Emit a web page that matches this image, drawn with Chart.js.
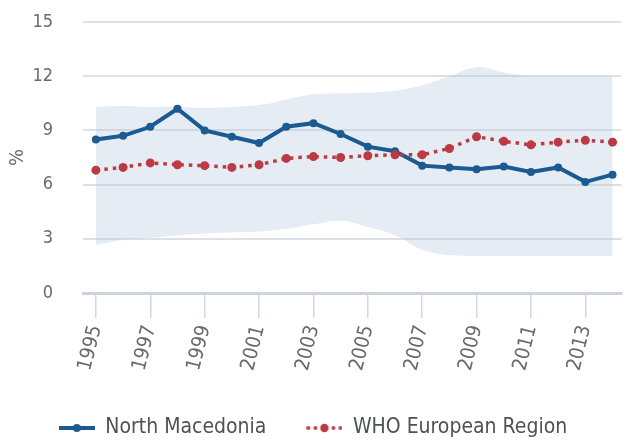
<!DOCTYPE html>
<html>
<head>
<meta charset="utf-8">
<script src="https://cdn.jsdelivr.net/npm/chart.js@4.4.1/dist/chart.umd.min.js"></script>
<style>
  html, body { margin: 0; padding: 0; background: #fff; }
  #wrap { width: 626px; height: 443px; }
</style>
</head>
<body>
<div id="wrap"><canvas id="chart" width="626" height="443"></canvas></div>
<script>
// data
const years = [1995, 1996, 1997, 1998, 1999, 2000, 2001, 2002, 2003, 2004,
               2005, 2006, 2007, 2008, 2009, 2010, 2011, 2012, 2013, 2014];
const northMacedonia = [8.5, 8.7, 9.2, 10.2, 9.0, 8.65, 8.3, 9.2, 9.4, 8.8,
                        8.1, 7.85, 7.05, 6.95, 6.85, 7.0, 6.7, 6.95, 6.15, 6.55];
const whoEurope = [6.8, 6.95, 7.2, 7.1, 7.05, 6.95, 7.1, 7.45, 7.55, 7.5,
                   7.6, 7.65, 7.65, 8.0, 8.65, 8.4, 8.2, 8.35, 8.45, 8.35];
// range of the WHO European Region countries (shaded band)
const rangeMax = [10.3, 10.35, 10.3, 10.3, 10.25, 10.3, 10.4, 10.7, 11.0, 11.05,
                  11.1, 11.2, 11.5, 12.0, 12.5, 12.2, 12.0, 12.0, 12.0, 12.0];
const rangeMin = [2.65, 2.95, 3.05, 3.2, 3.3, 3.35, 3.4, 3.55, 3.8, 4.0,
                  3.65, 3.2, 2.4, 2.1, 2.05, 2.05, 2.05, 2.05, 2.05, 2.05];
const yearTicks = [1995, 1997, 1999, 2001, 2003, 2005, 2007, 2009, 2011, 2013];
const valueTicks = [0, 3, 6, 9, 12, 15];

const BLUE = '#1c5a92';
const RED = '#bb3a44';

const pts = (arr) => years.map((yr, i) => ({ x: yr, y: arr[i] }));

// small legend symbols: line with marker
function legendSymbol(kind) {
  const c = document.createElement('canvas');
  c.width = 36; c.height = 12;
  const g = c.getContext('2d');
  if (kind === 'solid') {
    g.strokeStyle = BLUE; g.lineWidth = 4;
    g.beginPath(); g.moveTo(0, 6); g.lineTo(36, 6); g.stroke();
    g.fillStyle = BLUE;
    g.beginPath(); g.arc(18, 6, 4, 0, Math.PI * 2); g.fill();
  } else {
    g.fillStyle = RED;
    [2, 9, 27, 34].forEach(x => { g.beginPath(); g.arc(x, 6, 1.9, 0, Math.PI * 2); g.fill(); });
    g.beginPath(); g.arc(18, 6, 4.2, 0, Math.PI * 2); g.fill();
  }
  return c;
}

const ctx = document.getElementById('chart');
new Chart(ctx, {
  type: 'line',
  data: {
    datasets: [
      {
        label: 'WHO European Region',
        data: pts(whoEurope),
        borderColor: RED,
        backgroundColor: RED,
        borderWidth: 3.5,
        borderDash: [3.5, 5],
        pointRadius: 4.5,
        pointBorderWidth: 0,
        fill: false,
        tension: 0
      },
      {
        label: 'North Macedonia',
        data: pts(northMacedonia),
        borderColor: BLUE,
        backgroundColor: BLUE,
        borderWidth: 4,
        pointRadius: 4,
        pointBorderWidth: 0,
        fill: false,
        tension: 0
      },
      {
        label: 'max',
        data: pts(rangeMax),
        borderWidth: 0,
        pointRadius: 0,
        backgroundColor: 'rgba(180,200,222,0.34)',
        fill: '+1',
        tension: 0.4
      },
      {
        label: 'min',
        data: pts(rangeMin),
        borderWidth: 0,
        pointRadius: 0,
        fill: false,
        tension: 0.4
      }
    ]
  },
  options: {
    responsive: false,
    animation: false,
    layout: { padding: { top: 22, right: 0, bottom: -5.5, left: 0 } },
    plugins: {
      tooltip: { enabled: false },
      legend: {
        position: 'bottom',
        labels: {
          usePointStyle: true,
          pointStyleWidth: 36,
          padding: 40,
          color: '#4d5257',
          font: { family: "'DejaVu Sans Condensed', 'DejaVu Sans', sans-serif", size: 21 },
          generateLabels: () => [
            { text: 'North Macedonia', pointStyle: legendSymbol('solid'), datasetIndex: 1,
              fontColor: '#4d5257', lineWidth: 0, strokeStyle: 'rgba(0,0,0,0)', fillStyle: 'rgba(0,0,0,0)' },
            { text: 'WHO European Region', pointStyle: legendSymbol('dotted'), datasetIndex: 0,
              fontColor: '#4d5257', lineWidth: 0, strokeStyle: 'rgba(0,0,0,0)', fillStyle: 'rgba(0,0,0,0)' }
          ]
        }
      }
    },
    scales: {
      x: {
        type: 'linear',
        min: 1994.526,
        max: 2014.33,
        afterBuildTicks: (s) => { s.ticks = yearTicks.map(v => ({ value: v })); },
        afterFit: (s) => { s.height = 84.5; },
        grid: { drawOnChartArea: false, drawTicks: true, tickLength: 25, color: '#d3d9df', lineWidth: 1.5 },
        border: { color: '#ccd5df', width: 3 },
        ticks: {
          minRotation: 76,
          maxRotation: 76,
          padding: 5,
          color: '#6a6a6a',
          font: { family: "'DejaVu Sans Condensed', 'DejaVu Sans', sans-serif", size: 20 },
          callback: (v) => String(v)
        }
      },
      y: {
        min: 0,
        max: 15,
        afterBuildTicks: (s) => { s.ticks = valueTicks.map(v => ({ value: v })); },
        afterFit: (s) => {
          s.width = 83;
          // the big label gap should not push the plot down
          s.paddingTop = 0;
          s.paddingBottom = 0;
        },
        grid: { drawTicks: false, color: '#dde1e5', lineWidth: 2 },
        border: { display: false },
        ticks: {
          padding: 30,
          color: '#6a6a6a',
          font: { family: "'DejaVu Sans Condensed', sans-serif", size: 18 }
        },
        title: {
          display: true,
          text: '%',
          color: '#6a6a6a',
          padding: { top: 6, bottom: 0 },
          font: { family: "'DejaVu Sans Condensed', 'DejaVu Sans', sans-serif", size: 20 }
        }
      }
    }
  }
});
</script>
</body>
</html>
